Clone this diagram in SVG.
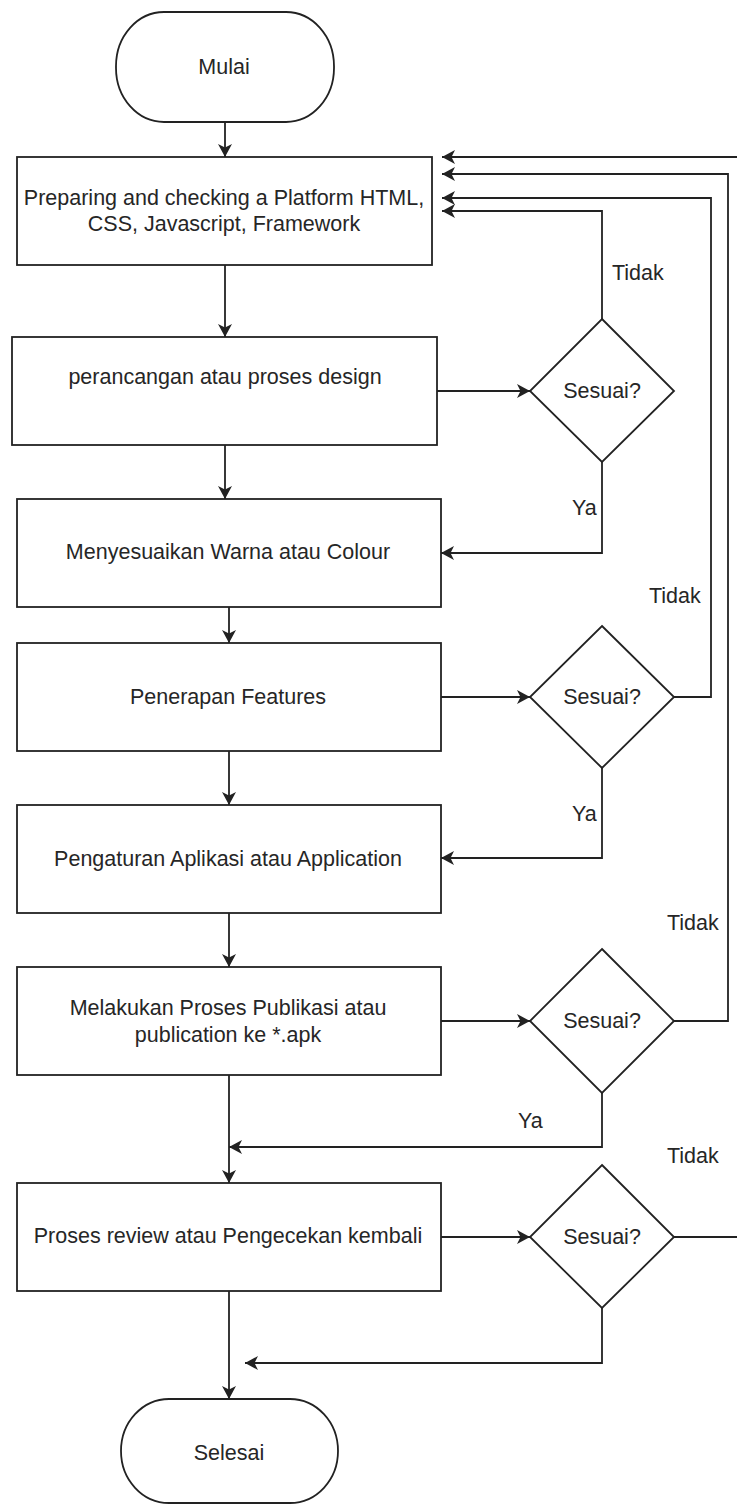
<svg xmlns="http://www.w3.org/2000/svg" width="737" height="1504" viewBox="0 0 737 1504">
<style>
.shape{fill:#fff;stroke:#222;stroke-width:1.8}
.conn{fill:none;stroke:#222;stroke-width:1.8}
text{font-family:"Liberation Sans",Arial,sans-serif;font-size:21.5px;fill:#262626}
.c{text-anchor:middle}
</style>
<defs>
<marker id="arr" markerUnits="userSpaceOnUse" markerWidth="16" markerHeight="16" refX="13" refY="7" orient="auto">
<path d="M0,0 L13,7 L0,14 L3.5,7 z" fill="#222"/>
</marker>
</defs>
<rect width="737" height="1504" fill="#fff"/>
<g id="connectors">
<path class="conn" d="M225,122 V157" marker-end="url(#arr)"/>
<path class="conn" d="M225,265 V337" marker-end="url(#arr)"/>
<path class="conn" d="M225,445 V499" marker-end="url(#arr)"/>
<path class="conn" d="M229,607 V643" marker-end="url(#arr)"/>
<path class="conn" d="M229,751 V805" marker-end="url(#arr)"/>
<path class="conn" d="M229,913 V967" marker-end="url(#arr)"/>
<path class="conn" d="M229,1075 V1183" marker-end="url(#arr)"/>
<path class="conn" d="M229,1291 V1399" marker-end="url(#arr)"/>
<path class="conn" d="M437,391 H530" marker-end="url(#arr)"/>
<path class="conn" d="M441,697 H530" marker-end="url(#arr)"/>
<path class="conn" d="M441,1021 H530" marker-end="url(#arr)"/>
<path class="conn" d="M441,1237 H530" marker-end="url(#arr)"/>
<path class="conn" d="M602,319 V211 H442" marker-end="url(#arr)"/>
<path class="conn" d="M674,697 H711 V198 H442" marker-end="url(#arr)"/>
<path class="conn" d="M674,1021 H728 V174 H442" marker-end="url(#arr)"/>
<path class="conn" d="M674,1237 H746 V157 H442" marker-end="url(#arr)"/>
<path class="conn" d="M602,462 V553 H441" marker-end="url(#arr)"/>
<path class="conn" d="M602,768 V858 H441" marker-end="url(#arr)"/>
<path class="conn" d="M602,1093 V1147 H229" marker-end="url(#arr)"/>
<path class="conn" d="M602,1308 V1363 H245" marker-end="url(#arr)"/>
<text x="612" y="280">Tidak</text>
<text x="572" y="515">Ya</text>
<text x="649" y="603">Tidak</text>
<text x="572" y="821">Ya</text>
<text x="667" y="930">Tidak</text>
<text x="518" y="1128">Ya</text>
<text x="667" y="1163">Tidak</text>
</g>
<g id="start">
<rect class="shape" x="116" y="12" width="218" height="110" rx="48" ry="54"/>
<text class="c" x="224" y="74">Mulai</text>
</g>
<g id="step1">
<rect class="shape" x="17" y="157" width="415" height="108"/>
<text class="c" x="224" y="205">Preparing and checking a Platform HTML,</text>
<text class="c" x="224" y="231">CSS, Javascript, Framework</text>
</g>
<g id="step2">
<rect class="shape" x="12" y="337" width="425" height="108"/>
<text class="c" x="225" y="384">perancangan atau proses design</text>
</g>
<g id="dec1">
<polygon class="shape" points="602,319 674,391 602,462 530,391"/>
<text class="c" x="602" y="398">Sesuai?</text>
</g>
<g id="step3">
<rect class="shape" x="17" y="499" width="424" height="108"/>
<text class="c" x="228" y="559">Menyesuaikan Warna atau Colour</text>
</g>
<g id="step4">
<rect class="shape" x="17" y="643" width="424" height="108"/>
<text class="c" x="228" y="704">Penerapan Features</text>
</g>
<g id="dec2">
<polygon class="shape" points="602,626 674,697 602,768 530,697"/>
<text class="c" x="602" y="704">Sesuai?</text>
</g>
<g id="step5">
<rect class="shape" x="17" y="805" width="424" height="108"/>
<text class="c" x="228" y="866">Pengaturan Aplikasi atau Application</text>
</g>
<g id="step6">
<rect class="shape" x="17" y="967" width="424" height="108"/>
<text class="c" x="228" y="1015">Melakukan Proses Publikasi atau</text>
<text class="c" x="228" y="1042">publication ke *.apk</text>
</g>
<g id="dec3">
<polygon class="shape" points="602,949 674,1021 602,1093 530,1021"/>
<text class="c" x="602" y="1028">Sesuai?</text>
</g>
<g id="step7">
<rect class="shape" x="17" y="1183" width="424" height="108"/>
<text class="c" x="228" y="1243">Proses review atau Pengecekan kembali</text>
</g>
<g id="dec4">
<polygon class="shape" points="602,1165 674,1237 602,1308 530,1237"/>
<text class="c" x="602" y="1244">Sesuai?</text>
</g>
<g id="end">
<rect class="shape" x="121" y="1399" width="217" height="104" rx="48" ry="52"/>
<text class="c" x="229" y="1460">Selesai</text>
</g>
</svg>
